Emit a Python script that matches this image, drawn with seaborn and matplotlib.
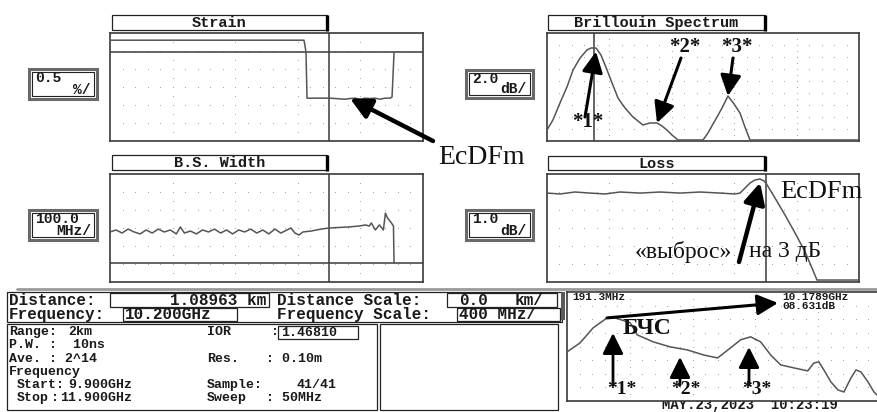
import matplotlib
matplotlib.use("Agg")
import matplotlib.pyplot as plt
import seaborn as sns
from matplotlib.patches import Rectangle

# ---------- DATA ----------

# strain trace: distance (km) / strain (%), 0.5 %/div
strain_km = [0.000, 0.965, 0.970, 0.975, 0.980, 1.045, 1.095, 1.169, 1.194, 1.219,
             1.244, 1.269, 1.294, 1.318, 1.343, 1.368, 1.393, 1.403, 1.408, 1.413]
strain_pct = [0.33, 0.33, 0.17, 0.00, -1.28, -1.28, -1.28, -1.31, -1.29, -1.28,
              -1.31, -1.28, -1.29, -1.28, -1.31, -1.28, -1.28, -1.25, -0.64, 0.00]

# Brillouin shift width: distance (km) / width (MHz), 100 MHz/div
bsw_km = [0.00, 0.03, 0.06, 0.09, 0.12, 0.15, 0.18, 0.21, 0.24, 0.27, 0.30, 0.33,
          0.35, 0.37, 0.40, 0.43, 0.46, 0.49, 0.52, 0.55, 0.58, 0.61, 0.64, 0.67,
          0.70, 0.73, 0.76, 0.79, 0.82, 0.85, 0.88, 0.90, 0.92, 0.94, 0.96, 1.00,
          1.05, 1.09, 1.14, 1.19, 1.24, 1.27, 1.29, 1.30, 1.32, 1.34, 1.36, 1.37,
          1.38, 1.40, 1.41, 1.413]
bsw_mhz = [278, 289, 272, 294, 278, 267, 289, 272, 294, 278, 289, 267,
           306, 272, 283, 267, 289, 278, 294, 272, 289, 267, 289, 278,
           294, 272, 289, 267, 294, 272, 289, 300, 272, 261, 278, 283,
           294, 300, 303, 306, 311, 317, 311, 328, 289, 317, 289, 383,
           356, 328, 311, 106]

# loss trace: distance (km) / loss (dB), 1 dB/div
loss_km = [0.000, 0.065, 0.139, 0.214, 0.289, 0.363, 0.463, 0.562, 0.662, 0.761,
           0.861, 0.935, 0.960, 0.985, 1.010, 1.035, 1.060, 1.080, 1.095, 1.134,
           1.184, 1.234, 1.284, 1.318, 1.343, 1.552]
loss_db = [4.94, 4.89, 5.00, 4.94, 4.89, 5.00, 4.94, 5.00, 4.94, 5.00,
           4.94, 4.89, 4.94, 5.22, 5.50, 5.67, 5.72, 5.61, 5.39, 4.67,
           3.72, 2.72, 1.67, 0.78, 0.11, 0.11]

# Brillouin spectrum at cursor: frequency (GHz) / level (dB), 2 dB/div
spec_ghz = [9.900, 9.938, 9.983, 10.028, 10.067, 10.112, 10.156, 10.182, 10.214,
            10.246, 10.285, 10.317, 10.355, 10.400, 10.451, 10.515, 10.560, 10.605,
            10.637, 10.669, 10.701, 10.740, 10.900, 10.932, 10.964, 10.990, 11.022,
            11.060, 11.099, 11.137, 11.169, 11.201, 11.900]
spec_db = [1.83, 3.50, 6.33, 9.00, 11.83, 13.83, 15.17, 15.50, 15.50,
           14.33, 11.83, 9.67, 7.17, 5.50, 4.00, 2.67, 3.00, 3.00,
           2.50, 1.83, 1.00, 0.17, 0.17, 1.33, 2.83, 4.00, 5.50,
           7.50, 6.17, 4.67, 2.33, 0.17, 0.17]

# lower right spectrum view
bfs_ghz = [9.900, 9.983, 10.067, 10.156, 10.208, 10.304, 10.349, 10.451, 10.560,
           10.669, 10.772, 10.862, 10.945, 11.009, 11.073, 11.137, 11.201, 11.265,
           11.349, 11.438, 11.477, 11.509, 11.541, 11.586, 11.631, 11.669, 11.714,
           11.746, 11.778, 11.823, 11.861, 11.894]
bfs_db = [3.60, 4.26, 5.37, 6.10, 6.10, 5.74, 4.85, 4.34, 3.97,
          3.75, 3.38, 3.16, 3.90, 4.49, 4.71, 4.34, 3.38, 2.65,
          2.43, 2.21, 2.79, 2.87, 2.28, 1.40, 0.81, 0.66, 1.69,
          2.28, 2.13, 1.40, 0.66, 0.29]

cursor_km = 1.08963
cursor_ghz = 10.200

# ---------- STYLE ----------

sns.set_style("white")
plt.rcParams["font.family"] = ["DejaVu Sans"]
MONO = "Liberation Mono"
SERIF = "Liberation Serif"
W, H = 878, 412
TRACE = "#555555"
FRAME = "#3a3a3a"

fig = plt.figure(figsize=(W / 100, H / 100), dpi=100)

bg = fig.add_axes([0, 0, 1, 1], zorder=0)
bg.set_xlim(0, W)
bg.set_ylim(H, 0)
bg.axis("off")

top = fig.add_axes([0, 0, 1, 1], zorder=5)
top.set_xlim(0, W)
top.set_ylim(H, 0)
top.axis("off")
top.patch.set_alpha(0)


def px_axes(x0, y0, x1, y1):
    return fig.add_axes([x0 / W, 1 - y1 / H, (x1 - x0) / W, (y1 - y0) / H], zorder=2)


def box(x0, y0, x1, y1, lw=0.8, color="#222222", ax=bg):
    ax.add_patch(Rectangle((x0, y0), x1 - x0, y1 - y0, fill=False, lw=lw, ec=color))


def mono(x, y, s, size=9.5, ha="left", ax=bg):
    ax.text(x, y, s, fontsize=size, family=MONO, weight="bold", ha=ha, va="center",
            color="#1a1a1a")


def dots(ax, nx, ny, minor=5):
    # dotted screen graticule
    xs, ys = [], []
    for k in range(1, ny):
        for i in range(1, nx * minor):
            xs.append(i / (nx * minor))
            ys.append(k / ny)
    for j in range(1, nx):
        for k in range(1, 2 * ny, 2):
            xs.append(j / nx)
            ys.append(k / (2 * ny))
    ax.scatter(xs, ys, s=0.6, color="#9a9a9a", transform=ax.transAxes, lw=0, zorder=1)


def panel(rect, xlim, ylim, nx, ny, cursor=None):
    ax = px_axes(*rect)
    ax.set_xlim(*xlim)
    ax.set_ylim(*ylim)
    dots(ax, nx, ny)
    if cursor is not None:
        ax.axvline(cursor, color=FRAME, lw=1.1, zorder=2)
    ax.set_xticks([])
    ax.set_yticks([])
    for s in ax.spines.values():
        s.set_color(FRAME)
        s.set_linewidth(1.2)
    return ax


def trace(ax, x, y):
    sns.lineplot(x=x, y=y, ax=ax, color=TRACE, lw=1.1, estimator=None, sort=False,
                 legend=False, zorder=3)
    ax.set_xlabel("")
    ax.set_ylabel("")


def title_box(x0, y0, x1, y1, label):
    box(x0, y0, x1, y1, lw=0.9)
    bg.plot([x1, x1], [y0, y1 + 1], color="black", lw=2.4, solid_capstyle="butt")
    mono((x0 + x1) / 2, (y0 + y1) / 2 + 0.5, label, size=11, ha="center")


def scale_box(x0, y0, x1, y1, top_txt, bot_txt):
    box(x0, y0, x1, y1, lw=2.2, color="#6a6a6a")
    box(x0 + 3, y0 + 3, x1 - 3, y1 - 3, lw=0.8, color="#222222")
    mono(x0 + 6, y0 + 9, top_txt, size=10.5)
    mono(x1 - 6, y1 - 9, bot_txt, size=10.5, ha="right")


def arrow(xy, xytext, lw=3.0, xycoords="data", textcoords="data", head=(0.9, 0.45)):
    top.annotate("", xy=xy, xycoords=xycoords, xytext=xytext, textcoords=textcoords,
                 arrowprops=dict(arrowstyle="-|>,head_length=%s,head_width=%s" % head,
                                 lw=lw, color="black", shrinkA=0, shrinkB=0,
                                 mutation_scale=14))


def serif(x, y, s, size=18, weight="normal"):
    top.text(x, y, s, fontsize=size, family=SERIF, weight=weight, ha="center",
             va="center", color="#111111")


# ---------- STRAIN ----------

title_box(112, 15, 327, 30, "Strain")
scale_box(29, 69, 97, 99, "0.5", "%/")
ax_s = panel((110, 33, 423, 141), (0, 1.557), (-2.47, 0.53), 5, 6, cursor_km)
ax_s.axhline(0, color=FRAME, lw=1.1, zorder=2)
trace(ax_s, strain_km, strain_pct)

# ---------- BRILLOUIN SPECTRUM ----------

title_box(548, 15, 765, 30, "Brillouin Spectrum")
scale_box(466, 70, 533, 98, "2.0", "dB/")
ax_b = panel((547, 33, 859, 141), (9.9, 11.9), (0, 18), 5, 9, cursor_ghz)
trace(ax_b, spec_ghz, spec_db)

# ---------- B.S. WIDTH ----------

title_box(112, 155, 327, 170, "B.S. Width")
scale_box(29, 210, 97, 240, "100.0", "MHz/")
ax_w = panel((110, 174, 423, 282), (0, 1.557), (0, 600), 5, 6, cursor_km)
ax_w.axhline(106, color=FRAME, lw=1.1, zorder=2)
trace(ax_w, bsw_km, bsw_mhz)

# ---------- LOSS ----------

title_box(548, 156, 765, 170, "Loss")
scale_box(466, 210, 533, 240, "1.0", "dB/")
ax_l = panel((547, 174, 859, 282), (0, 1.552), (0, 6), 5, 6, cursor_km)
trace(ax_l, loss_km, loss_db)

# ---------- INFO AREA ----------

bg.plot([17, W], [289, 289], color="#9a9a9a", lw=2.0)
box(7, 292, 562, 322, lw=0.9)
box(110, 293, 269, 307, lw=0.9)
box(447, 293, 557, 307, lw=0.9)
box(123, 308, 237, 321, lw=0.9)
box(457, 308, 560, 321, lw=0.9)
box(7, 324, 377, 410, lw=0.9)
box(380, 324, 558, 410, lw=0.9)
box(278, 326, 358, 339, lw=0.9)
bg.add_patch(Rectangle((561, 292), 4, 28, color="#5a5a5a", lw=0))

mono(9, 300.5, "Distance:", size=11.5)
mono(266, 300.5, "1.08963 km", size=11.5, ha="right")
mono(277, 300.5, "Distance Scale:", size=11.5)
mono(459, 300.5, "0.0", size=11.5)
mono(515, 300.5, "km/", size=11.5)
mono(9, 314.5, "Frequency:", size=11.5)
mono(125, 314.5, "10.200GHz", size=11.5)
mono(277, 314.5, "Frequency Scale:", size=11.5)
mono(459, 314.5, "400 MHz/", size=11.5)

mono(9, 332, "Range:")
mono(68, 332, "2km")
mono(207, 332, "IOR")
mono(271, 332, ":")
mono(281, 332.5, "1.46810")
mono(9, 345, "P.W. :  10ns")
mono(9, 359, "Ave. : 2^14")
mono(207, 359, "Res.")
mono(266, 359, ": 0.10m")
mono(9, 372, "Frequency")
mono(17, 385, "Start:")
mono(68, 385, "9.900GHz")
mono(207, 385, "Sample:")
mono(297, 385, "41/41")
mono(17, 398, "Stop")
mono(51, 398, ":")
mono(60, 398, "11.900GHz")
mono(207, 398, "Sweep")
mono(266, 398, ": 50MHz")

# ---------- LOWER RIGHT SPECTRUM ----------

ax_r = panel((567, 292, 881, 401), (9.9, 11.906), (0, 8), 5, 8)
trace(ax_r, bfs_ghz, bfs_db)
mono(572, 297.5, "191.3MHz", size=8, ax=top)
mono(782, 297.5, "10.1789GHz", size=8, ax=top)
mono(782, 306, "08.631dB", size=8, ax=top)
mono(662, 405.5, "MAY.23,2023  10:23:19", size=10)

# ---------- ANNOTATIONS ----------

arrow((strain_km[8], strain_pct[8]), (433, 141), xycoords=ax_s.transData, lw=3.2)
serif(482, 157, "EcDFm", size=20)

arrow((spec_ghz[8], spec_db[8] - 0.6), (585, 117), xycoords=ax_b.transData, lw=2.2)
arrow((spec_ghz[17], spec_db[17]), (681, 58), xycoords=ax_b.transData, lw=2.2)
arrow((spec_ghz[27], spec_db[27]), (733, 58), xycoords=ax_b.transData, lw=2.2)
serif(588, 122, "*1*", size=15, weight="bold")
serif(685, 47, "*2*", size=15, weight="bold")
serif(737, 47, "*3*", size=15, weight="bold")

arrow((loss_km[16], loss_db[16] - 0.2), (739, 262), xycoords=ax_l.transData, lw=3.2)
serif(821, 192, "EcDFm", size=19)
serif(683, 252, "«выброс»", size=17)
serif(785, 252, "на 3 дБ", size=17)

arrow((778, 303), (bfs_ghz[3], bfs_db[3]), textcoords=ax_r.transData, lw=2.2)
serif(647, 328, "БЧС", size=17, weight="bold")
arrow((613, 333), (613, 385), lw=2.0)
arrow((680, 357), (680, 385), lw=2.0)
arrow((749, 347), (749, 385), lw=2.0)
serif(622, 389, "*1*", size=14, weight="bold")
serif(686, 389, "*2*", size=14, weight="bold")
serif(757, 389, "*3*", size=14, weight="bold")

fig.savefig("out.png", dpi=100)
